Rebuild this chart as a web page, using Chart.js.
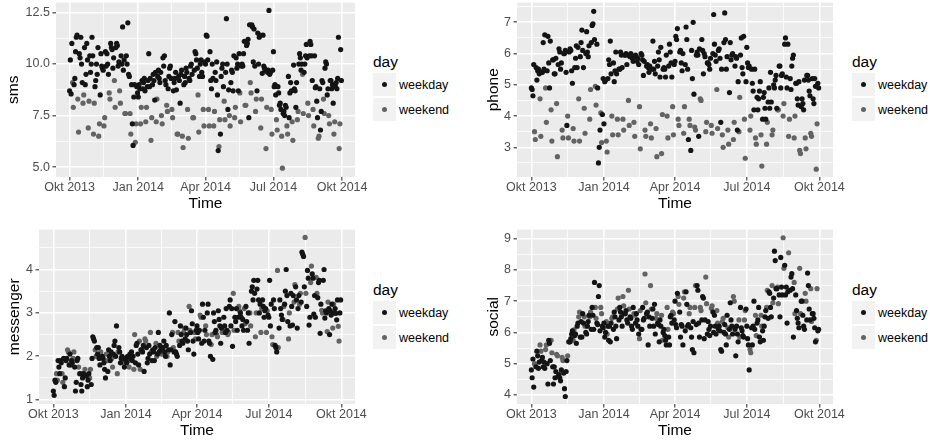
<!DOCTYPE html>
<html>
<head>
<meta charset="utf-8">
<title>sms / phone / messenger / social by day</title>
<script src="https://cdn.jsdelivr.net/npm/chart.js@4.4.1/dist/chart.umd.min.js"></script>
<style>
  body { margin: 0; width: 930px; height: 444px; background: #fff; position: relative; overflow: hidden;
         font-family: "Liberation Sans", Arial, sans-serif; -webkit-font-smoothing: antialiased; }
  .panel { position: absolute; }
  .legend { position: absolute; }
  .legend .ltitle { font-size: 15.5px; height: 18px; line-height: 18px; margin-bottom: 2px; color: #000; }
  .legend .lrow { display: flex; align-items: center; height: 23px; margin-bottom: 2px; font-size: 12.5px; color: #000; }
  .legend .key { width: 23px; height: 23px; background: #F2F2F2; display: flex; align-items: center;
                 justify-content: center; margin-right: 3px; }
  .legend .dot { width: 5px; height: 5px; border-radius: 50%; }
</style>
</head>
<body>

<div class="panel" style="left:4px;   top:0;     width:366px; height:214px"><canvas id="c-sms"></canvas></div>
<div class="panel" style="left:484px; top:0;     width:364px; height:214px"><canvas id="c-phone"></canvas></div>
<div class="panel" style="left:5px;   top:227px; width:365px; height:214px"><canvas id="c-messenger"></canvas></div>
<div class="panel" style="left:484px; top:227px; width:364px; height:214px"><canvas id="c-social"></canvas></div>

<div class="legend" id="leg-sms"       style="left:373px; top:53px"></div>
<div class="legend" id="leg-phone"     style="left:852px; top:53px"></div>
<div class="legend" id="leg-messenger" style="left:373px; top:281px"></div>
<div class="legend" id="leg-social"    style="left:852px; top:281px"></div>

<script>
/* ── data: one value per day, Tue 01.10.2013 … Tue 30.09.2014 ──────────────
   each row is one week:  Tue Wed Thu Fri | Sat Sun | Mon                  */

const sms = [
  8.7, 10.2, 8.55, 11.0,   9.1, 7.9,   9.0,    // 01.10.
  9.3, 10.6, 11.3, 11.4,   8.3, 6.7,   10.5,   // 08.10.
  10.3, 11.3, 10.0, 9.1,   8.1, 8.5,   10.8,   // 15.10.
  9.0, 9.5, 11.0, 10.2,    6.9, 8.2,   10.4,   // 22.10.
  9.6, 10.0, 11.3, 10.4,   6.6, 8.1,   8.9,    // 29.10.
  9.2, 10.0, 9.5, 10.8,    6.5, 7.1,   8.5,    // 05.11.
  10.5, 9.9, 9.8, 9.7,     7.0, 7.4,   10.6,   // 12.11.
  9.9, 10.5, 10.0, 9.5,    8.6, 8.3,   11.0,   // 19.11.
  10.8, 10.7, 9.8, 10.3,   9.2, 7.9,   10.8,   // 26.11.
  11.0, 10.9, 9.9, 10.1,   8.7, 8.1,   10.4,   // 03.12.
  10.0, 11.8, 9.7, 10.2,   7.6, 7.6,   10.4,   // 10.12.
  10.0, 12.0, 9.5, 9.4,    7.6, 6.6,   9.0,    // 17.12.
  7.1, 6.05, 8.4, 9.0,     6.2, 7.1,   8.9,    // 24.12.
  8.6, 8.4, 9.0, 8.8,      7.1, 7.9,   9.2,    // 31.12.
  8.8, 9.1, 9.3, 8.7,      7.2, 7.9,   8.9,    // 07.01.
  9.2, 10.5, 8.9, 9.3,     6.3, 7.4,   9.0,    // 14.01.
  9.5, 9.2, 8.25, 9.6,     7.2, 8.3,   9.4,    // 21.01.
  9.7, 9.3, 9.1, 9.6,      7.5, 7.1,   10.3,   // 28.01.
  9.9, 10.4, 9.2, 9.0,     8.0, 7.7,   8.8,    // 04.02.
  9.4, 9.8, 9.9, 9.3,      7.8, 7.4,   8.7,    // 11.02.
  9.1, 9.3, 9.6, 8.75,     6.6, 6.6,   9.4,    // 18.02.
  9.2, 8.1, 9.5, 9.7,      6.5, 5.95,  9.0,    // 25.02.
  9.4, 9.1, 9.8, 9.6,      7.8, 6.4,   9.3,    // 04.03.
  9.2, 9.9, 10.0, 9.5,     7.4, 7.4,   9.7,    // 11.03.
  10.6, 10.5, 10.2, 9.8,   8.5, 6.7,   9.4,    // 18.03.
  10.0, 10.2, 9.6, 9.4,    7.8, 7.0,   10.1,   // 25.03.
  10.0, 11.4, 11.35, 10.2, 7.8, 7.0,   10.6,   // 01.04.
  9.2, 8.8, 10.0, 9.3,     7.0, 7.7,   9.6,    // 08.04.
  9.2, 10.1, 8.5, 5.8,     6.0, 7.3,   6.6,    // 15.04.
  9.4, 9.8, 10.0, 8.9,     8.2, 7.3,   9.6,    // 22.04.
  12.2, 10.0, 7.8, 8.75,   7.5, 7.0,   9.1,    // 29.04.
  9.7, 9.6, 8.7, 10.4,     7.4, 7.9,   10.3,   // 06.05.
  9.8, 10.0, 8.7, 10.5,    8.6, 7.2,   9.9,    // 13.05.
  10.0, 9.9, 10.5, 11.1,   8.0, 8.0,   10.9,   // 20.05.
  11.0, 11.2, 7.4, 11.9,   9.1, 8.6,   11.9,   // 27.05.
  11.8, 10.1, 11.7, 9.9,   7.7, 8.3,   8.7,    // 03.06.
  11.5, 10.0, 11.3, 11.4,  6.9, 8.3,   9.55,   // 10.06.
  11.4, 9.9, 9.8, 9.7,     5.9, 7.9,   9.6,    // 17.06.
  9.7, 12.6, 9.5, 9.6,     7.8, 6.6,   9.7,    // 24.06.
  10.6, 8.9, 9.0, 8.5,     7.3, 6.8,   8.9,    // 01.07.
  8.6, 8.0, 8.1, 7.8,      6.5, 4.95,  7.6,    // 08.07.
  7.7, 7.5, 8.0, 7.9,      7.0, 6.6,   9.4,    // 15.07.
  7.4, 8.6, 9.1, 8.7,      7.2, 6.3,   9.95,   // 22.07.
  8.8, 8.7, 7.9, 9.1,      7.3, 7.7,   10.0,   // 29.07.
  10.5, 10.3, 9.7, 10.0,   9.5, 7.6,   9.6,    // 05.08.
  10.0, 10.4, 10.95, 10.3, 8.1, 7.5,   10.4,   // 12.08.
  11.1, 10.95, 10.4, 9.2,  7.8, 7.0,   10.4,   // 19.08.
  8.85, 8.9, 8.2, 7.4,     6.4, 6.5,   8.8,    // 26.08.
  6.8, 7.7, 9.2, 9.1,      8.3, 7.6,   9.8,    // 02.09.
  10.1, 10.0, 8.5, 8.8,    7.5, 7.1,   9.2,    // 09.09.
  9.2, 8.8, 9.0, 8.1,      6.6, 7.2,   8.9,    // 16.09.
  9.1, 8.8, 9.3, 11.3,     5.9, 7.1,   10.7,   // 23.09.
  9.2                                          // 30.09.
];

const phone = [
  4.9, 4.85, 4.65, 5.65,   3.5, 3.25,  5.55,
  5.15, 5.45, 5.5, 5.35,   4.55, 3.35, 5.4,
  5.4, 6.35, 5.5, 6.6,     4.9, 3.8,   5.45,
  6.55, 5.7, 4.9, 6.4,     4.2, 3.2,   5.8,
  5.8, 5.35, 5.35, 5.85,   4.4, 2.7,   5.65,
  6.15, 6.05, 5.5, 5.7,    3.55, 3.3,  6.0,
  6.0, 6.1, 5.4, 3.7,      4.0, 3.3,   6.05,
  6.15, 6.1, 5.45, 5.05,   3.6, 3.2,   5.55,
  5.85, 6.25, 5.55, 6.2,   4.55, 3.2,  5.9,
  6.35, 6.75, 6.1, 5.55,   4.25, 3.45, 6.0,
  6.7, 6.05, 5.9, 6.25,    3.9, 4.85,  6.35,
  6.9, 6.95, 7.35, 6.45,   4.95, 4.35, 6.3,
  4.9, 2.5, 3.0, 3.55,     4.1, 3.15,  4.05,
  5.2, 3.75, 5.1, 5.15,    3.2, 2.85,  5.2,
  5.8, 5.65, 6.4, 5.35,    4.0, 3.4,   5.7,
  5.1, 5.45, 6.05, 5.35,   3.9, 3.4,   5.5,
  5.5, 6.05, 5.95, 5.55,   3.9, 3.55,  5.95,
  5.95, 6.0, 5.65, 5.95,   4.5, 3.7,   5.9,
  6.0, 5.9, 5.85, 5.75,    3.8, 3.35,  5.95,
  5.9, 5.75, 5.85, 5.65,   4.3, 2.95,  6.0,
  5.95, 5.8, 5.3, 5.75,    3.55, 3.35, 5.6,
  5.65, 5.55, 5.4, 5.6,    3.75, 3.3,  5.5,
  6.4, 5.5, 5.75, 5.35,    3.6, 2.7,   5.6,
  6.05, 5.8, 5.25, 6.2,    2.8, 4.05,  5.5,
  5.55, 5.5, 5.25, 5.95,   4.0, 3.3,   5.6,
  6.3, 6.05, 5.7, 5.25,    4.3, 3.4,   5.65,
  5.75, 6.55, 6.45, 6.8,   3.9, 3.7,   6.05,
  6.1, 5.7, 5.45, 6.0,     3.45, 4.3,  5.65,
  6.85, 6.45, 5.5, 3.25,   3.9, 3.7,   2.9,
  6.1, 5.2, 7.0, 4.7,      3.65, 3.55, 5.95,
  6.05, 5.95, 3.35, 6.15,  4.55, 4.5,  6.45,
  6.1, 5.35, 6.0, 5.9,     3.5, 3.8,   5.7,
  5.7, 5.65, 5.5, 5.85,    3.7, 3.45,  6.0,
  7.25, 6.3, 5.95, 5.75,   4.85, 3.6,  6.1,
  6.15, 5.85, 3.8, 5.5,    3.4, 3.0,   6.35,
  7.3, 6.45, 5.5, 5.9,     3.55, 3.1,  4.75,
  6.35, 5.8, 5.95, 6.0,    3.25, 3.8,  5.6,
  5.9, 5.85, 3.55, 5.1,    3.5, 4.6,   5.95,
  6.5, 5.55, 5.35, 6.55,   3.9, 2.65,  5.1,
  6.2, 5.7, 5.55, 5.6,     3.55, 4.0,  5.5,
  5.05, 4.8, 4.2, 5.5,     3.3, 3.1,   4.6,
  4.2, 4.55, 4.8, 5.1,     3.4, 2.4,   3.9,
  4.6, 4.75, 4.25, 3.9,    3.1, 3.8,   4.45,
  4.9, 4.25, 5.4, 4.45,    3.4, 3.55,  5.0,
  4.9, 5.15, 5.3, 4.25,    4.2, 4.2,   5.6,
  5.6, 4.9, 5.3, 5.35,     4.0, 4.4,   6.3,
  6.5, 5.25, 4.9, 6.3,     3.35, 3.9,  5.2,
  4.85, 5.6, 5.85, 5.95,   3.3, 4.0,   5.05,
  5.05, 4.55, 4.35, 5.1,   2.9, 2.8,   4.3,
  4.55, 4.4, 4.2, 5.15,    3.3, 2.95,  5.3,
  5.3, 5.15, 4.8, 4.65,    3.45, 3.35, 5.2,
  4.55, 4.4, 5.2, 4.95,    2.3, 3.75,  5.05,
  4.9
];

const messenger = [
  1.2, 1.1, 1.45, 1.4,     1.6, 1.45,  1.9,
  1.75, 1.6, 1.9, 1.85,    1.6, 1.4,   1.95,
  1.3, 1.5, 1.9, 1.95,     2.15, 2.1,  1.8,
  2.05, 1.8, 1.9, 1.85,    1.95, 2.1,  1.75,
  1.2, 1.4, 1.9, 1.95,     1.75, 1.6,  1.6,
  1.35, 1.2, 1.5, 1.6,     1.6, 1.7,   1.55,
  1.55, 1.3, 1.45, 1.6,    1.5, 1.7,   1.35,
  1.95, 2.45, 2.4, 2.35,   2.15, 2.0,  2.2,
  2.05, 2.2, 1.95, 1.8,    2.1, 2.0,   2.0,
  1.95, 1.85, 1.7, 1.5,    2.05, 1.9,  1.65,
  2.15, 2.0, 1.9, 2.1,     1.95, 1.75, 2.05,
  2.25, 2.35, 2.0, 2.7,    1.6, 2.1,   2.2,
  2.1, 1.85, 1.95, 2.0,    1.95, 1.85, 1.75,
  1.95, 1.9, 1.85, 2.0,    1.9, 1.75,  2.05,
  1.95, 2.1, 1.9, 2.0,     1.7, 2.5,   1.85,
  2.25, 2.3, 2.05, 1.8,    2.35, 1.7,  2.15,
  2.15, 2.1, 2.25, 1.65,   2.4, 2.35,  2.2,
  1.85, 1.95, 2.25, 2.05,  2.55, 2.1,  1.9,
  2.15, 2.1, 1.9, 2.2,     2.3, 2.0,   2.05,
  2.55, 2.1, 2.25, 2.15,   2.05, 2.15, 2.2,
  2.35, 2.1, 2.0, 2.25,    2.0, 2.1,   2.15,
  3.0, 1.8, 2.15, 2.5,     2.55, 2.2,  2.1,
  2.8, 2.1, 2.05, 2.0,     2.55, 2.35, 2.25,
  2.7, 2.5, 2.35, 2.3,     2.55, 2.65, 2.4,
  2.65, 2.5, 2.35, 2.15,   3.15, 2.6,  2.55,
  3.05, 2.75, 2.35, 2.05,  2.55, 2.4,  2.6,
  2.7, 2.55, 2.4, 2.6,     2.95, 2.9,  2.3,
  3.2, 2.9, 2.35, 2.6,     2.7, 2.5,   3.0,
  3.2, 2.35, 2.3, 2.0,     2.27, 2.5,  1.93,
  3.0, 2.8, 2.55, 2.6,     2.5, 2.45,  3.05,
  2.85, 2.7, 2.3, 2.65,    2.55, 2.6,  2.9,
  2.7, 2.55, 3.1, 2.6,     2.5, 2.55,  3.15,
  3.3, 2.7, 3.1, 2.23,     3.45, 2.6,  2.9,
  2.8, 3.1, 2.6, 2.9,      3.15, 3.05, 3.0,
  2.9, 2.7, 2.85, 2.6,     3.1, 2.75,  3.15,
  2.8, 2.6, 3.0, 2.3,      3.0, 2.7,   3.5,
  3.6, 3.3, 3.75, 3.45,    2.45, 3.0,  3.55,
  3.75, 3.3, 3.0, 3.2,     2.55, 3.1,  3.3,
  3.15, 2.9, 3.05, 3.1,    2.55, 3.05, 2.95,
  2.9, 3.75, 2.7, 3.2,     2.45, 2.27, 3.3,
  3.1, 2.25, 2.2, 2.1,     3.98, 2.2,  2.65,
  3.3, 3.1, 2.95, 2.85,    2.85, 3.15, 3.2,
  3.5, 4.0, 3.4, 2.8,      2.4, 3.0,   2.7,
  3.45, 3.15, 2.72, 3.4,   3.25, 3.65, 3.6,
  3.3, 2.65, 3.1, 3.4,     3.2, 3.45,  3.25,
  4.4, 4.35, 4.3, 3.6,     4.74, 3.45, 3.15,
  3.98, 3.8, 2.72, 2.9,    3.7, 4.08,  3.9,
  3.8, 2.97, 3.4, 2.9,     3.82, 3.45, 3.35,
  3.7, 3.75, 2.53, 3.2,    3.06, 3.0,  3.75,
  4.0, 2.88, 3.05, 3.0,    2.57, 3.25, 3.1,
  2.5, 3.05, 2.95, 3.2,    2.65, 3.2,  3.0,
  3.1, 2.99, 2.84, 3.3,    2.69, 2.35, 3.0,
  3.3
];

const social = [
  4.8, 4.55, 5.15, 4.25,   5.0, 4.95,  4.9,
  5.4, 5.25, 4.85, 5.05,   5.6, 5.4,   5.1,
  5.2, 4.9, 5.05, 4.85,    5.45, 5.6,  5.0,
  4.35, 5.75, 5.65, 5.1,   5.75, 5.35, 4.9,
  4.35, 4.9, 4.55, 4.75,   5.3, 5.25,  4.6,
  4.65, 4.55, 4.45, 4.8,   5.2, 5.1,   4.7,
  4.2, 3.95, 4.75, 5.1,    5.25, 5.7,  5.7,
  5.7, 5.8, 5.95, 6.05,    5.75, 6.08, 5.9,
  5.95, 5.65, 6.2, 6.3,    6.5, 6.65,  5.85,
  6.35, 5.85, 6.6, 6.3,    6.5, 6.2,   6.0,
  5.95, 6.2, 6.35, 6.55,   6.5, 6.65,  6.1,
  6.8, 6.55, 6.1, 7.6,     6.8, 6.45,  6.3,
  6.25, 7.15, 7.5, 6.05,   6.8, 6.6,   6.2,
  6.15, 6.3, 5.85, 6.0,    6.35, 5.95, 6.2,
  5.75, 6.2, 5.7, 6.3,     6.45, 6.5,  6.1,
  6.65, 6.5, 6.2, 5.8,     6.75, 7.1,  6.4,
  6.8, 6.65, 6.5, 6.2,     7.15, 6.85, 6.6,
  6.6, 6.7, 6.4, 6.3,      7.35, 6.75, 6.5,
  6.45, 6.2, 6.1, 6.8,     6.6, 6.55,  6.3,
  6.6, 6.4, 6.2, 5.95,     5.8, 6.7,   6.1,
  6.1, 6.8, 6.4, 6.45,     7.87, 6.95, 6.6,
  6.65, 5.6, 6.5, 6.2,     7.5, 6.75,  6.45,
  6.75, 6.2, 6.9, 5.95,    6.45, 6.6,  6.3,
  6.25, 5.7, 6.4, 6.2,     6.55, 5.75, 6.0,
  6.1, 5.9, 5.75, 5.6,     6.8, 6.1,   5.85,
  5.6, 6.5, 6.55, 6.3,     6.65, 6.6,  6.4,
  7.0, 6.25, 6.15, 7.25,   7.15, 6.9,  6.65,
  5.85, 6.25, 6.2, 5.6,    7.1, 7.3,   6.05,
  7.3, 6.9, 6.2, 6.25,     6.6, 6.8,   6.15,
  5.85, 5.45, 6.35, 5.35,  6.8, 7.5,   6.25,
  7.5, 7.35, 6.3, 5.85,    6.8, 6.7,   6.4,
  7.15, 7.1, 5.8, 6.4,     7.77, 6.92, 5.95,
  6.35, 6.1, 5.9, 6.2,     6.77, 6.85, 6.65,
  6.0, 6.55, 6.2, 5.95,    6.7, 6.3,   6.1,
  6.2, 6.05, 5.45, 5.4,    6.35, 6.45, 6.0,
  6.25, 5.95, 5.6, 6.55,   6.15, 5.85, 6.1,
  6.95, 6.4, 6.2, 5.95,    7.15, 7.0,  6.1,
  5.25, 6.2, 5.95, 5.7,    6.4, 5.85,  6.8,
  6.15, 6.05, 5.9, 5.85,   6.4, 6.7,   6.75,
  6.2, 5.8, 5.6, 4.8,      5.45, 5.35, 6.15,
  5.6, 6.2, 7.0, 6.1,      6.55, 5.9,  6.3,
  6.4, 6.8, 5.85, 5.7,     6.55, 6.2,  6.05,
  5.75, 6.2, 6.5, 6.7,     6.8, 7.35,  6.45,
  7.3, 7.25, 6.8, 6.5,     7.5, 6.95,  7.1,
  8.6, 8.3, 7.4, 7.4,      7.45, 6.92, 7.2,
  6.5, 8.4, 7.45, 7.2,     9.03, 8.05, 8.15,
  7.2, 7.45, 6.3, 7.3,     8.55, 7.35, 7.35,
  7.77, 7.88, 7.4, 5.85,   7.6, 6.6,   7.2,
  6.7, 6.45, 6.3, 6.15,    8.05, 6.6,  7.0,
  7.0, 6.55, 6.2, 6.1,     7.25, 7.0,  6.4,
  7.9, 7.5, 6.75, 6.4,     7.4, 6.35,  6.6,
  6.6, 6.45, 6.15, 5.7,    5.75, 7.4,  6.05,
  6.1
];

const xTickDates  = ['2013-10-01', '2014-01-01', '2014-04-01', '2014-07-01', '2014-10-01'];
const xTickLabels = ['Okt 2013', 'Jan 2014', 'Apr 2014', 'Jul 2014', 'Okt 2014'];

const smsTicks       = [5, 7.5, 10, 12.5];
const smsTickLabels  = ['5.0', '7.5', '10.0', '12.5'];
const phoneTicks     = [3, 4, 5, 6, 7];
const messengerTicks = [1, 2, 3, 4];
const socialTicks    = [4, 5, 6, 7, 8, 9];

const dayLabels = ['weekday', 'weekend'];
const dayColors = ['#141414', '#636363'];

/* ── layout constants ───────────────────────────────────────────────────── */
const START  = Date.UTC(2013, 9, 1);
const DAY_MS = 86400000;
const X_MIN  = -18.2;   // ggplot 5% expansion around 364 days
const X_MAX  = 382.2;

Chart.defaults.font.family = '"Liberation Sans", Arial, sans-serif';

/* ── helpers ────────────────────────────────────────────────────────────── */
function splitByDay(values) {
  const weekday = [], weekend = [];
  values.forEach((v, i) => {
    const dow = new Date(START + i * DAY_MS).getUTCDay();
    (dow === 0 || dow === 6 ? weekend : weekday).push({ x: i, y: v });
  });
  return { weekday, weekend };
}

// majors plus ggplot-style minor breaks half way between them
function withMinors(majors, min, max) {
  const n = majors.length;
  const out = majors.map(v => ({ value: v, major: true }));
  out.push({ value: majors[0] - (majors[1] - majors[0]) / 2, major: false });
  for (let i = 0; i < n - 1; i++) out.push({ value: (majors[i] + majors[i + 1]) / 2, major: false });
  out.push({ value: majors[n - 1] + (majors[n - 1] - majors[n - 2]) / 2, major: false });
  return out.filter(t => t.value >= min && t.value <= max).sort((a, b) => a.value - b.value);
}

const panelBg = {
  id: 'panelBg',
  beforeDraw(chart) {
    const { ctx, chartArea: a } = chart;
    ctx.save();
    ctx.fillStyle = '#EBEBEB';
    ctx.fillRect(a.left, a.top, a.right - a.left, a.bottom - a.top);
    ctx.restore();
  }
};

const gridStyle = {
  color: '#FFFFFF',
  lineWidth: c => (c.tick && c.tick.major ? 1.6 : 0.8),
  tickColor: c => (c.tick && c.tick.major ? '#333333' : 'rgba(0,0,0,0)'),
  tickWidth: 1.1,
  tickLength: 3.5,
  drawTicks: true
};

const xTickDays = xTickDates.map(d => (Date.parse(d) - START) / DAY_MS);

/* ── one panel ──────────────────────────────────────────────────────────── */
function drawPanel(p) {
  const split = splitByDay(p.values);
  const yLabels = p.labels || p.ticks.map(String);

  new Chart(document.getElementById('c-' + p.name), {
    type: 'scatter',
    data: {
      datasets: [
        { label: dayLabels[0], data: split.weekday, backgroundColor: dayColors[0],
          pointRadius: 2.6, pointHoverRadius: 2.6, borderWidth: 0 },
        { label: dayLabels[1], data: split.weekend, backgroundColor: dayColors[1],
          pointRadius: 2.6, pointHoverRadius: 2.6, borderWidth: 0 }
      ]
    },
    options: {
      responsive: true,
      maintainAspectRatio: false,
      animation: false,
      events: [],
      layout: { padding: { top: 0, left: 0, right: 15, bottom: 0 } },
      plugins: { legend: { display: false }, tooltip: { enabled: false } },
      scales: {
        x: {
          type: 'linear', min: X_MIN, max: X_MAX,
          afterBuildTicks: s => { s.ticks = withMinors(xTickDays, X_MIN, X_MAX); },
          afterFit: s => { s.height = 37; s.paddingLeft = 0; s.paddingRight = 0; },
          ticks: {
            autoSkip: false, maxRotation: 0, padding: 0,
            color: '#4D4D4D', font: { size: 12.5, lineHeight: 1.1 },
            callback: (v, i, t) => t[i].major ? xTickLabels[xTickDays.indexOf(t[i].value)] : ''
          },
          grid: gridStyle,
          border: { display: false },
          title: { display: true, text: 'Time', color: '#000', font: { size: 15.5 },
                   padding: { top: 0, bottom: 0.7 } }
        },
        y: {
          type: 'linear', min: p.min, max: p.max,
          afterBuildTicks: s => { s.ticks = withMinors(p.ticks, p.min, p.max); },
          afterFit: s => { s.width = p.yAxisW; s.paddingTop = 0; s.paddingBottom = 0; },
          ticks: {
            autoSkip: false, padding: 2.6,
            color: '#4D4D4D', font: { size: 12.5 },
            callback: (v, i, t) => t[i].major ? yLabels[p.ticks.indexOf(t[i].value)] : ''
          },
          grid: gridStyle,
          border: { display: false },
          title: { display: true, text: p.name, color: '#000', font: { size: 15.5 },
                   padding: { top: 0, bottom: 0 } }
        }
      }
    },
    plugins: [panelBg]
  });

  // legend, ggplot style
  const leg = document.getElementById('leg-' + p.name);
  leg.innerHTML = '<div class="ltitle">day</div>' + dayLabels.map((l, i) =>
    `<div class="lrow"><span class="key"><span class="dot" style="background:${dayColors[i]}"></span></span>${l}</div>`
  ).join('');
}

[
  { name: 'sms',       values: sms,       ticks: smsTicks, labels: smsTickLabels,
    min: 4.52, max: 12.98, yAxisW: 52 },
  { name: 'phone',     values: phone,     ticks: phoneTicks,
    min: 2.05, max: 7.63,  yAxisW: 33 },
  { name: 'messenger', values: messenger, ticks: messengerTicks,
    min: 0.9,  max: 4.92,  yAxisW: 34 },
  { name: 'social',    values: social,    ticks: socialTicks,
    min: 3.71, max: 9.29,  yAxisW: 33 }
].forEach(drawPanel);
</script>
</body>
</html>
